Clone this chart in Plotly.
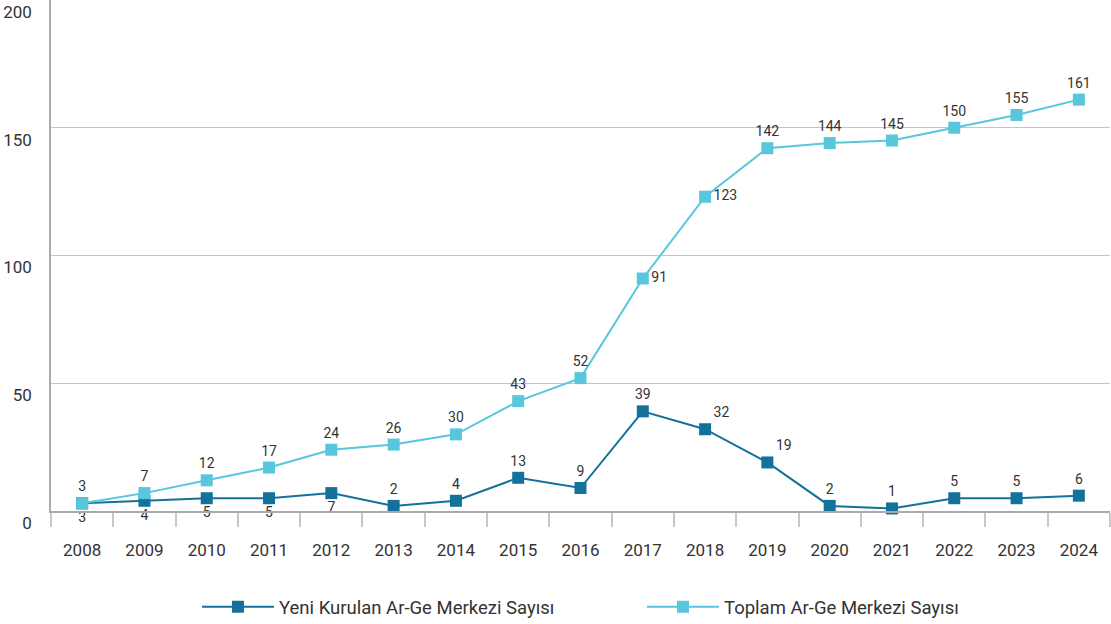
import plotly.graph_objects as go

years = ["2008","2009","2010","2011","2012","2013","2014","2015","2016",
         "2017","2018","2019","2020","2021","2022","2023","2024"]
yeni = [3,4,5,5,7,2,4,13,9,39,32,19,2,1,5,5,6]
toplam = [3,7,12,17,24,26,30,43,52,91,123,142,144,145,150,155,161]
y_ticks = [0, 50, 100, 150, 200]
yeni_pos = ["bottom center"]*5 + ["top center"]*5 + ["top right","top right"] + ["top center"]*5
toplam_pos = ["top center"]*9 + ["middle right","middle right"] + ["top center"]*6

name_yeni = "Yeni Kurulan Ar-Ge Merkezi Sayısı"
name_toplam = "Toplam Ar-Ge Merkezi Sayısı"

dark = "#13719A"
light = "#58C6DD"
txt = "#333333"
FONT = "Roboto, 'Liberation Sans', sans-serif"

fig = go.Figure()
fig.add_trace(go.Scatter(
    x=years, y=yeni, name=name_yeni, mode="lines+markers+text",
    line=dict(color=dark, width=2), marker=dict(symbol="square", size=12, color=dark),
    text=[str(v) for v in yeni], textposition=yeni_pos,
    textfont=dict(size=14, color=txt, family=FONT), cliponaxis=False,
))
fig.add_trace(go.Scatter(
    x=years, y=toplam, name=name_toplam, mode="lines+markers+text",
    line=dict(color=light, width=2), marker=dict(symbol="square", size=12, color=light),
    text=[str(v) for v in toplam], textposition=toplam_pos,
    textfont=dict(size=14, color=txt, family=FONT), cliponaxis=False,
))

fig.update_layout(
    width=1111, height=624,
    margin=dict(l=51, r=1, t=0, b=113, autoexpand=False),
    paper_bgcolor="white", plot_bgcolor="white",
    font=dict(family=FONT, color=txt, size=17),
    showlegend=True,
    legend=dict(orientation="h", x=(197 - 51) / 1059, xanchor="left", yref="container",
                y=0.027, yanchor="middle", entrywidth=358, itemwidth=72,
                font=dict(size=18.5, color=txt, family=FONT)),
    xaxis=dict(type="category", range=[-0.5, 16.5], showgrid=False, automargin=False,
               showline=True, linecolor="#aaaaaa", linewidth=1.5,
               ticks="outside", tickson="boundaries", ticklen=14, tickcolor="#c8c8c8",
               tickwidth=1.5, ticklabelstandoff=23, tickfont=dict(size=17, color=txt)),
    yaxis=dict(range=[0, 200], tickvals=y_ticks, showgrid=True, automargin=False,
               gridcolor="#c4c4c4", gridwidth=1, zeroline=False,
               showline=True, linecolor="#aaaaaa", linewidth=1.5,
               ticks="", ticklabelstandoff=14, ticklabelshift=12,
               ticklabeloverflow="allow", tickfont=dict(size=17, color=txt)),
)
fig.write_html("out.html", config={"displayModeBar": False},
               post_script="document.body.style.margin='0';")
